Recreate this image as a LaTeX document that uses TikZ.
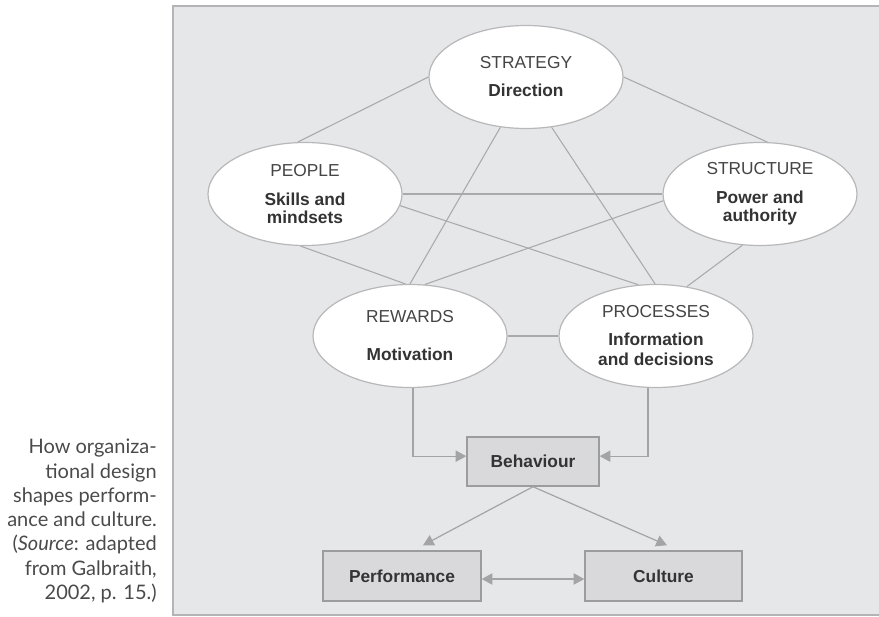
\documentclass[tikz,border=0pt]{standalone}
\usepackage{fontspec}
\setmainfont{Liberation Sans}
\newfontfamily\captionfont{Lato}
\usetikzlibrary{arrows.meta,shapes.geometric}

\definecolor{panelbg}{HTML}{E6E7E9}
\definecolor{panelline}{HTML}{B4B4B6}
\definecolor{ovalline}{HTML}{B8B8BA}
\definecolor{linkgray}{HTML}{AAAAAC}
\definecolor{arrowgray}{HTML}{A4A4A6}
\definecolor{boxfill}{HTML}{D9D9DB}
\definecolor{boxline}{HTML}{9C9C9E}
\definecolor{capgray}{HTML}{454545}
\definecolor{textgray}{HTML}{333333}
\definecolor{captext}{HTML}{4A4A4A}

\newcommand{\capline}[1]{{\color{capgray}#1}}

\begin{document}
\begin{tikzpicture}[x=0.75pt,y=-0.75pt,
  oval/.style={ellipse, draw=ovalline, fill=white, line width=0.9pt,
    minimum width=145.5pt, minimum height=77.25pt, inner sep=0pt,
    align=center, font=\fontsize{13}{15}\selectfont, text=textgray},
  link/.style={draw=linkgray, line width=0.8pt},
  flow/.style={draw=arrowgray, line width=0.9pt,
    -{Triangle[length=8pt,width=8.5pt,fill=arrowgray]}},
  stage/.style={rectangle, draw=boxline, fill=boxfill, line width=1.1pt,
    inner sep=0pt, font=\bfseries\fontsize{13}{15}\selectfont, text=textgray}]

\useasboundingbox (0,0) rectangle (879,617);

% grey panel behind the model
\fill[panelbg] (173,6) rectangle (880,615);
\draw[panelline, line width=0.9pt] (880,6) -- (173,6) -- (173,615) -- (880,615);

% the five design levers
\node[oval] (strategy)  at (526,77)  {\capline{STRATEGY}\\[6pt]\textbf{Direction}};
\node[oval] (people)    at (305,194) {\capline{PEOPLE}\\[7pt]\textbf{Skills and}\\[-1.5pt]\textbf{mindsets}};
\node[oval] (structure) at (760,194) {\capline{STRUCTURE}\\[7pt]\textbf{Power and}\\[-1.5pt]\textbf{authority}};
\node[oval] (rewards)   at (410,336) {\capline{REWARDS}\\[13.5pt]\textbf{Motivation}};
\node[oval] (processes) at (656,336) {\capline{PROCESSES}\\[6pt]\textbf{Information}\\\textbf{and decisions}};

% links between the levers
\draw[link] (strategy.180)  -- (people.98);
\draw[link] (strategy.0)    -- (structure.82);
\draw[link] (strategy.-117) -- (rewards.90);
\draw[link] (strategy.-63)  -- (processes.91);
\draw[link] (people.0)      -- (structure.180);
\draw[link] (people.-7)     -- (processes.109);
\draw[link] (people.-95)    -- (rewards.95);
\draw[link] (structure.184) -- (rewards.74);
\draw[link] (structure.-109)-- (processes.58);
\draw[link] (rewards.0)     -- (processes.180);

% outcomes
\node[stage, minimum width=99pt, minimum height=36.75pt] (behaviour) at (533,461.5) {Behaviour};
\node[stage, minimum width=118.5pt, minimum height=37.5pt] (performance) at (402,576) {Performance};
\node[stage, minimum width=117.75pt, minimum height=37.5pt] (culture) at (663.5,576) {Culture};

\draw[flow] ([xshift=2.25pt]rewards.south) |- ([yshift=4pt]behaviour.west);
\draw[flow] ([xshift=-6pt]processes.south) |- ([yshift=4pt]behaviour.east);
\draw[flow] (behaviour.south) -- ([xshift=15.75pt,yshift=3.75pt]performance.north);
\draw[flow] (behaviour.south) -- ([xshift=2.6pt,yshift=3.75pt]culture.north);
\draw[flow, {Triangle[length=8pt,width=8.5pt,fill=arrowgray]}-{Triangle[length=8pt,width=8.5pt,fill=arrowgray]}]
  ([yshift=-2.25pt]performance.east) -- ([yshift=-2.25pt]culture.west);

% figure caption
\node[anchor=north east, align=right, inner sep=0pt, text=captext,
  font=\captionfont\fontsize{15}{18.2}\selectfont] (caption) at (157,439)
  {How organiza-\\tional design\\shapes perform-\\ance and culture.\\(\textit{Source}: adapted\\from Galbraith,\\2002, p. 15.)};
\end{tikzpicture}
\end{document}
